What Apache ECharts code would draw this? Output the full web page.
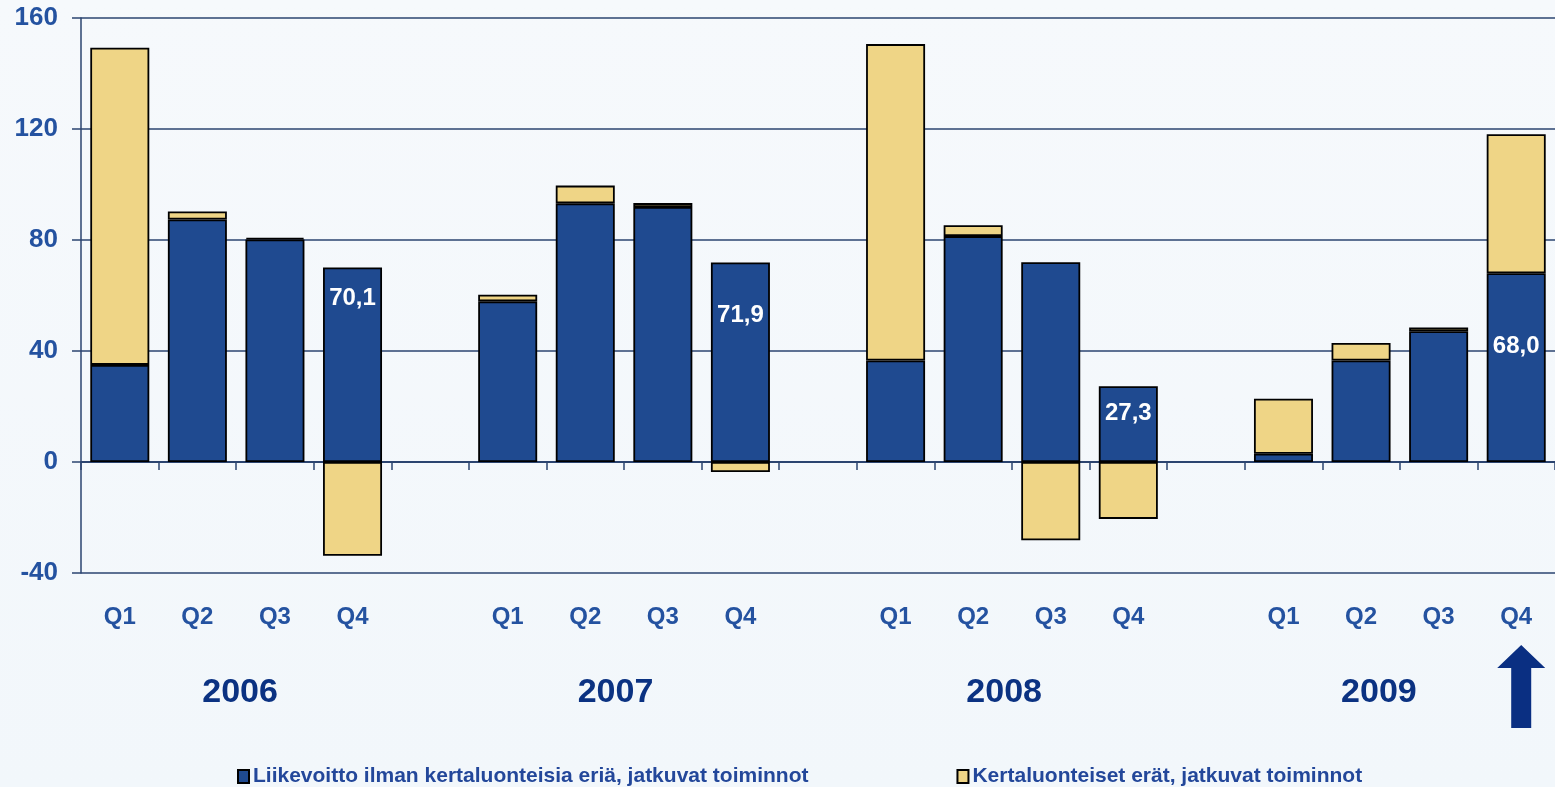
<!DOCTYPE html>
<html>
<head>
<meta charset="utf-8">
<script src="https://cdn.jsdelivr.net/npm/echarts@6/dist/echarts.min.js"></script>
<style>
html,body{margin:0;padding:0;background:#F4F8FC;}
#chart{width:1555px;height:787px;background:linear-gradient(180deg,#F6F9FC 0%,#F2F7FB 100%);}
</style>
</head>
<body>
<div id="chart"></div>
<script>
// ---- data ----
const years = ['2006', '2007', '2008', '2009'];
const quarters = ['Q1', 'Q2', 'Q3', 'Q4'];
// one entry per category slot (gap slot between years = null)
const operatingProfit = [35.0, 87.4, 80.2, 70.1, null, 57.9, 93.2, 91.9, 71.9, null, 36.6, 81.4, 72.0, 27.3, null, 3.0, 36.6, 47.1, 68.0];
const oneOffItems     = [114.3, 2.9, 0.6, -33.8, null, 2.4, 6.4, 1.4, -3.6, null, 114.0, 3.9, -28.2, -20.5, null, 19.8, 6.3, 1.4, 50.1];
const labelledSlots = [3, 8, 13, 18];
const yTicks = { min: -40, max: 160, interval: 40 };
const seriesNames = ['Liikevoitto ilman kertaluonteisia eriä, jatkuvat toiminnot', 'Kertaluonteiset erät, jatkuvat toiminnot'];

// styles
const labelDistance = [19, 41, 15, 61];
const yearShift = [0.55, 0.39, 0.40, 0.23];

// ---- build categories ----
const categories = [];
const quarterOf = {};
years.forEach((y, yi) => {
  quarters.forEach(q => { const c = y + ' ' + q; categories.push(c); quarterOf[c] = q; });
  if (yi < years.length - 1) { const g = 'gap' + y; categories.push(g); quarterOf[g] = ''; }
});

const BLUE = '#1F4A90', YELLOW = '#EFD586', LINE = '#2B4470', TXT = '#2452A0', YEAR = '#0B3282';

const opData = operatingProfit.map((v, i) => {
  const k = labelledSlots.indexOf(i);
  if (k < 0 || v == null) return v;
  return {
    value: v,
    label: {
      show: true, position: 'insideTop', distance: labelDistance[k],
      formatter: p => p.value.toFixed(1).replace('.', ','),
      color: '#fff', fontSize: 24, fontWeight: 'bold', fontFamily: 'Liberation Sans, Arial, sans-serif'
    }
  };
});

const chart = echarts.init(document.getElementById('chart'), null, { renderer: 'canvas' });
const option = {
  backgroundColor: 'transparent',
  animation: false,
  textStyle: { fontFamily: 'Liberation Sans, Arial, sans-serif' },
  grid: { left: 81, right: 0, top: 18, bottom: 214, containLabel: false },
  legend: {
    bottom: -5, left: 232, itemGap: 148, itemWidth: 11, itemHeight: 13,
    icon: 'rect',
    textStyle: { color: '#23479A', fontSize: 21, fontWeight: 'bold', padding: [0, 0, 0, -1] },
    data: seriesNames
  },
  xAxis: [
    {
      type: 'category', data: categories, position: 'bottom',
      axisLine: { show: true, onZero: true, lineStyle: { color: LINE, width: 2 } },
      axisTick: { show: true, interval: 0, length: 8, lineStyle: { color: LINE, width: 1.5 } },
      axisLabel: { show: false }, splitLine: { show: false }
    },
    {
      type: 'category', data: categories, position: 'bottom',
      axisLine: { show: false, onZero: false }, axisTick: { show: false },
      axisLabel: {
        show: true, interval: 0, margin: 32, color: TXT, fontSize: 24, fontWeight: 'bold',
        formatter: v => quarterOf[v]
      }
    }
  ],
  yAxis: {
    type: 'value', min: yTicks.min, max: yTicks.max, interval: yTicks.interval,
    axisLine: { show: true, lineStyle: { color: LINE, width: 1.5 } },
    axisTick: { show: true, length: 9, lineStyle: { color: LINE, width: 1.5 } },
    axisLabel: { color: TXT, fontSize: 26, fontWeight: 'bold', margin: 23, padding: [0, 0, -5, 0] },
    splitLine: { show: true, lineStyle: { color: LINE, width: 1.5 } }
  },
  series: [
    {
      name: seriesNames[0], type: 'bar', stack: 'total', xAxisIndex: 0, barWidth: 59,
      itemStyle: { color: BLUE, borderColor: '#000', borderWidth: 1.8 },
      data: opData
    },
    {
      name: seriesNames[1], type: 'bar', stack: 'total', xAxisIndex: 0, barWidth: 59,
      itemStyle: { color: YELLOW, borderColor: '#000', borderWidth: 1.8 },
      data: oneOffItems
    }
  ]
};
chart.setOption(option);

// year labels and arrow positioned from the category scale
const graphics = [];
const catW = chart.convertToPixel({ xAxisIndex: 0 }, 1) - chart.convertToPixel({ xAxisIndex: 0 }, 0);
years.forEach((y, yi) => {
  const q2 = categories.indexOf(y + ' Q2');
  const cx = chart.convertToPixel({ xAxisIndex: 0 }, q2) + yearShift[yi] * catW;
  graphics.push({
    type: 'text', x: cx, y: 693,
    style: { text: y, fill: YEAR, font: 'bold 34px Liberation Sans, Arial, sans-serif', textAlign: 'center', textVerticalAlign: 'middle' }
  });
});
const lastQ = chart.convertToPixel({ xAxisIndex: 0 }, categories.length - 1) + 5;
graphics.push({
  type: 'polygon',
  shape: { points: [[lastQ, 645], [lastQ + 24, 668], [lastQ + 10, 668], [lastQ + 10, 728], [lastQ - 10, 728], [lastQ - 10, 668], [lastQ - 24, 668]] },
  style: { fill: '#0A2F82' }
});
chart.setOption({ graphic: graphics });
</script>
</body>
</html>
